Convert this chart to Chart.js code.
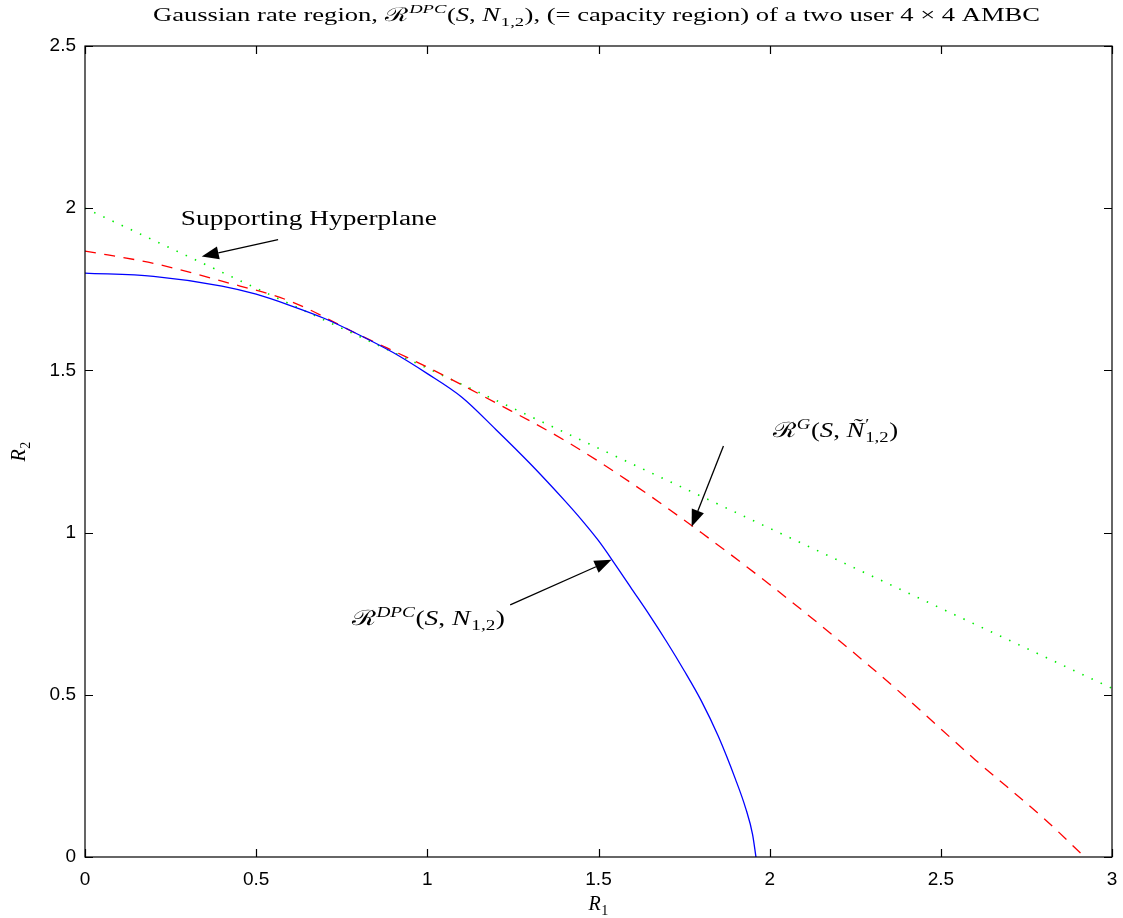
<!DOCTYPE html>
<html>
<head>
<meta charset="utf-8">
<script src="https://cdn.jsdelivr.net/npm/chart.js@4.4.0/dist/chart.umd.min.js"></script>
<style>
html, body { margin: 0; padding: 0; background: #fff; }
</style>
</head>
<body>
<canvas id="c" width="1123" height="918"></canvas>
<script>
const xTicks = [0, 0.5, 1, 1.5, 2, 2.5, 3];
const yTicks = [0, 0.5, 1, 1.5, 2, 2.5];

// R^DPC(S, N_{1,2}) boundary (blue)
const dpcR1 = [0, 0.2, 0.4, 0.5, 0.6, 0.7, 0.8, 0.9, 1.0, 1.1, 1.2, 1.3, 1.4, 1.45, 1.5, 1.55, 1.6, 1.65, 1.7, 1.75, 1.8, 1.85, 1.9, 1.93, 1.95, 1.96];
const dpcR2 = [1.80, 1.79, 1.76, 1.735, 1.70, 1.66, 1.61, 1.555, 1.49, 1.418, 1.318, 1.213, 1.10, 1.04, 0.975, 0.900, 0.822, 0.744, 0.662, 0.575, 0.482, 0.372, 0.240, 0.150, 0.070, 0];

// R^G(S, N'_{1,2}) boundary (red dashed)
const gR1 = [0, 0.2, 0.4, 0.6, 0.8, 1.0, 1.2, 1.4, 1.6, 1.8, 2.0, 2.2, 2.4, 2.6, 2.8, 2.92];
const gR2 = [1.868, 1.83, 1.775, 1.713, 1.61, 1.51, 1.40, 1.285, 1.15, 1.00, 0.84, 0.67, 0.49, 0.30, 0.12, 0];

// supporting hyperplane (green dotted)
const hypR1 = [0, 3];
const hypR2 = [2.0, 0.52];

const pts = (xs, ys) => xs.map((x, i) => ({ x: x, y: ys[i] }));

const serif = (s, it) => (it ? 'italic ' : '') + s + 'px "Liberation Serif", "DejaVu Serif", serif';

function measureParts(ctx, parts, size) {
    let w = 0;
    for (const p of parts) {
        if (p.t !== undefined) {
            ctx.font = serif(size, p.it);
            w += ctx.measureText(p.t).width;
        } else {
            const s = size * 0.7;
            let a = 0, b = 0;
            if (p.sup) { ctx.font = serif(s, p.it); a = ctx.measureText(p.sup).width; }
            if (p.sub) { ctx.font = serif(s, false); b = ctx.measureText(p.sub).width; }
            w += Math.max(a, b) + size * 0.05;
        }
    }
    return w;
}

function drawRich(ctx, parts, x, y, size, width, align) {
    const nat = measureParts(ctx, parts, size);
    const k = width ? width / nat : 1;
    const x0 = align === 'center' ? x - nat * k / 2 : x;
    ctx.save();
    ctx.translate(x0, y);
    ctx.scale(k, 1);
    ctx.fillStyle = '#000';
    ctx.textAlign = 'left';
    ctx.textBaseline = 'alphabetic';
    let cx = 0;
    for (const p of parts) {
        if (p.t !== undefined) {
            ctx.font = serif(size, p.it);
            ctx.fillText(p.t, cx, 0);
            cx += ctx.measureText(p.t).width;
        } else {
            const s = size * 0.7;
            let a = 0, b = 0;
            if (p.sup) {
                ctx.font = serif(s, p.it);
                ctx.fillText(p.sup, cx + size * 0.03, -size * 0.4);
                a = ctx.measureText(p.sup).width;
            }
            if (p.sub) {
                ctx.font = serif(s, false);
                ctx.fillText(p.sub, cx + size * 0.03, size * 0.24);
                b = ctx.measureText(p.sub).width;
            }
            cx += Math.max(a, b) + size * 0.05;
        }
    }
    ctx.restore();
}

const titleParts = [
    { t: 'Gaussian rate region, ' }, { t: '\u211B' }, { sup: 'DPC', it: true },
    { t: '(' }, { t: 'S', it: true }, { t: ', ' }, { t: 'N', it: true }, { sub: '1,2' },
    { t: '), (= capacity region) of a two user 4 \u00D7 4 AMBC' }
];

const notes = [
    { parts: [{ t: 'Supporting Hyperplane' }], x: 0.280, y: 1.948, size: 20, width: 256 },
    { parts: [{ t: '\u211B' }, { sup: 'G', it: true }, { t: '(' }, { t: 'S', it: true }, { t: ', ' },
              { t: '\u00D1', it: true }, { sup: '\u2032', sub: '1,2' }, { t: ')' }],
      x: 2.010, y: 1.295, size: 21, width: 125 },
    { parts: [{ t: '\u211B' }, { sup: 'DPC', it: true }, { t: '(' }, { t: 'S', it: true }, { t: ', ' },
              { t: 'N', it: true }, { sub: '1,2' }, { t: ')' }],
      x: 0.780, y: 0.715, size: 21, width: 153 }
];

const arrows = [
    { from: [0.564, 1.903], to: [0.341, 1.851] },
    { from: [1.865, 1.267], to: [1.772, 1.018] },
    { from: [1.242, 0.777], to: [1.538, 0.916] }
];

const frame = {
    id: 'frame',
    afterDatasetsDraw(chart) {
        const ctx = chart.ctx;
        const a = chart.chartArea;
        const xs = chart.scales.x, ys = chart.scales.y;
        ctx.save();
        ctx.strokeStyle = '#000';
        ctx.lineWidth = 1.2;
        ctx.strokeRect(a.left, a.top, a.right - a.left, a.bottom - a.top);
        ctx.beginPath();
        const tl = 8;
        xTicks.forEach(v => {
            const px = Math.round(xs.getPixelForValue(v)) + 0.5;
            ctx.moveTo(px, a.bottom); ctx.lineTo(px, a.bottom - tl);
            ctx.moveTo(px, a.top); ctx.lineTo(px, a.top + tl);
        });
        yTicks.forEach(v => {
            const py = Math.round(ys.getPixelForValue(v)) + 0.5;
            ctx.moveTo(a.left, py); ctx.lineTo(a.left + tl, py);
            ctx.moveTo(a.right, py); ctx.lineTo(a.right - tl, py);
        });
        ctx.stroke();

        // arrows
        ctx.fillStyle = '#000';
        ctx.lineWidth = 1.3;
        arrows.forEach(ar => {
            const x1 = xs.getPixelForValue(ar.from[0]), y1 = ys.getPixelForValue(ar.from[1]);
            const x2 = xs.getPixelForValue(ar.to[0]), y2 = ys.getPixelForValue(ar.to[1]);
            const ang = Math.atan2(y2 - y1, x2 - x1);
            const hl = 17, hw = 6.5;
            const bx = x2 - hl * Math.cos(ang), by = y2 - hl * Math.sin(ang);
            ctx.beginPath();
            ctx.moveTo(x1, y1); ctx.lineTo(bx, by);
            ctx.stroke();
            ctx.beginPath();
            ctx.moveTo(x2, y2);
            ctx.lineTo(bx + hw * Math.sin(ang), by - hw * Math.cos(ang));
            ctx.lineTo(bx - hw * Math.sin(ang), by + hw * Math.cos(ang));
            ctx.closePath();
            ctx.fill();
        });

        notes.forEach(n => {
            drawRich(ctx, n.parts, xs.getPixelForValue(n.x), ys.getPixelForValue(n.y), n.size, n.width, 'left');
        });

        // title and axis labels
        drawRich(ctx, titleParts, (a.left + a.right) / 2 - 2, 21, 19, 887, 'center');
        drawRich(ctx, [{ t: 'R', it: true }, { sub: '1' }], (a.left + a.right) / 2, 910, 20, null, 'center');
        ctx.save();
        ctx.translate(25, (a.top + a.bottom) / 2);
        ctx.rotate(-Math.PI / 2);
        drawRich(ctx, [{ t: 'R', it: true }, { sub: '2' }], 0, 0, 20, null, 'center');
        ctx.restore();
        ctx.restore();
    }
};

const tickFont = { family: '"Liberation Sans", Arial, sans-serif', size: 19 };
const fmt = v => String(v);

new Chart(document.getElementById('c'), {
    type: 'line',
    data: {
        datasets: [
            {
                data: pts(dpcR1, dpcR2),
                borderColor: '#0000ff',
                borderWidth: 1.3,
                pointRadius: 0,
                cubicInterpolationMode: 'monotone'
            },
            {
                data: pts(gR1, gR2),
                borderColor: '#ff0000',
                borderWidth: 1.3,
                borderDash: [11, 8.5],
                pointRadius: 0,
                cubicInterpolationMode: 'monotone'
            },
            {
                data: pts(hypR1, hypR2),
                borderColor: '#00ee00',
                borderWidth: 1.6,
                borderDash: [1.5, 8.6],
                pointRadius: 0
            }
        ]
    },
    options: {
        responsive: false,
        animation: false,
        layout: { padding: { top: 46, right: 11, left: 0, bottom: 0 } },
        plugins: { legend: { display: false }, tooltip: { enabled: false } },
        scales: {
            x: {
                type: 'linear', min: 0, max: 3,
                afterBuildTicks: s => { s.ticks = xTicks.map(v => ({ value: v })); },
                afterFit: s => { s.height = 61; s.paddingLeft = 0; s.paddingRight = 0; },
                grid: { display: false, drawTicks: false },
                border: { display: false },
                ticks: { color: '#000', font: tickFont, padding: 11, maxRotation: 0, autoSkip: false, callback: fmt }
            },
            y: {
                type: 'linear', min: 0, max: 2.5,
                afterBuildTicks: s => { s.ticks = yTicks.map(v => ({ value: v })); },
                afterFit: s => { s.width = 85; s.paddingTop = 0; s.paddingBottom = 0; },
                grid: { display: false, drawTicks: false },
                border: { display: false },
                ticks: { color: '#000', font: tickFont, padding: 9, autoSkip: false, callback: fmt }
            }
        }
    },
    plugins: [frame]
});
</script>
</body>
</html>
